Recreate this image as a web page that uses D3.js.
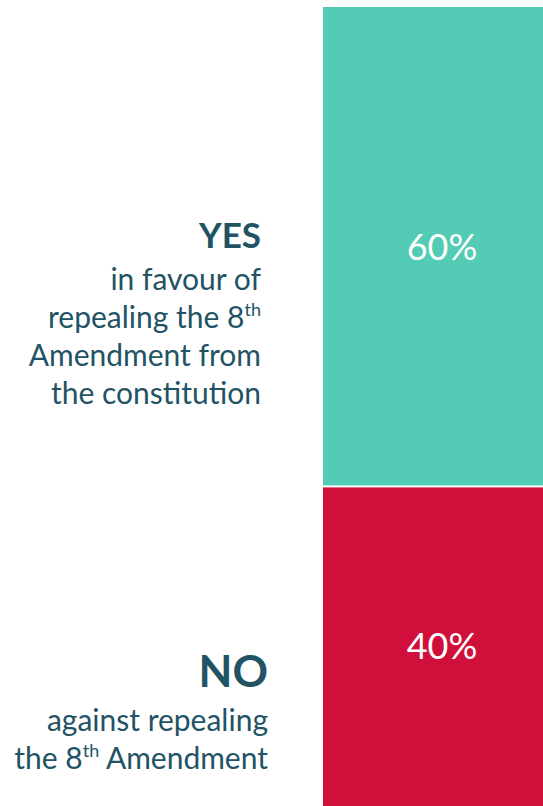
<!DOCTYPE html>
<html><head><meta charset="utf-8">
<script src="https://cdn.jsdelivr.net/npm/d3@7"></script>
<style>html,body{margin:0;padding:0;background:#fff;overflow:hidden}svg{display:block}</style>
</head><body>
<script>
const categories = ["YES", "NO"];
const values = [60, 40];
const valueLabels = ["60%", "40%"];
const headlines = ["YES", "NO"];
const subLines = [
  [["in favour of"], ["repealing the 8", "th"], ["Amendment from"], ["the constitution"]],
  [["against repealing"], ["the 8", "th", " Amendment"]]
];
const colors = ["#53CBB5", "#D0103A"];

const W = 543, H = 806;
const svg = d3.select("body").append("svg").attr("width", W).attr("height", H);
const font = "Lato, 'Open Sans', sans-serif";
const textColor = "#225364";

const stack = [];
let acc = 0;
values.forEach((v, i) => { stack.push({cat: categories[i], y0: acc, y1: acc + v, v, i}); acc += v; });

const y = d3.scaleLinear().domain([0, d3.sum(values)]).range([7, H]);
const x = d3.scaleBand().domain(["bar"]).range([323, 561]).padding(0);

svg.selectAll("rect.seg").data(stack).join("rect")
  .attr("class", "seg")
  .attr("x", x("bar"))
  .attr("width", x.bandwidth())
  .attr("y", d => y(d.y0) + (d.i > 0 ? 1 : 0))
  .attr("height", d => y(d.y1) - y(d.y0) - 1)
  .attr("fill", d => colors[d.i]);

svg.selectAll("text.val").data(stack).join("text")
  .attr("class", "val")
  .attr("x", x("bar") + x.bandwidth() / 2)
  .attr("y", d => (y(d.y0) + y(d.y1)) / 2 + 13)
  .attr("text-anchor", "middle")
  .attr("font-family", font)
  .attr("font-size", 36)
  .attr("fill", "#fff")
  .text(d => valueLabels[d.i]);

// label blocks
const labelCfg = [
  {right: 261, headBase: y(stack[0].y0) + 241, headSize: 35, lineSize: 30, firstLine: 42, lh: 38},
  {right: 268, headBase: y(stack[1].y0) + 201, headSize: 44, lineSize: 30, firstLine: 44, lh: 38}
];
stack.forEach((d, i) => {
  const c = labelCfg[i];
  const g = svg.append("g").attr("font-family", font).attr("fill", textColor).attr("text-anchor", "end");
  g.append("text").attr("x", c.right).attr("y", c.headBase)
    .attr("font-size", c.headSize).attr("font-weight", 700).text(headlines[i]);
  subLines[i].forEach((parts, j) => {
    const t = g.append("text").attr("x", c.right).attr("y", c.headBase + c.firstLine + j * c.lh)
      .attr("font-size", c.lineSize);
    parts.forEach((p, k) => {
      const sup = parts.length > 1 && k === 1;
      const ts = t.append("tspan").text(p);
      if (sup) ts.attr("font-size", c.lineSize * 0.6).attr("dy", -12);
      else if (k === 2) ts.attr("dy", 12);
    });
  });
});
</script>
</body></html>
